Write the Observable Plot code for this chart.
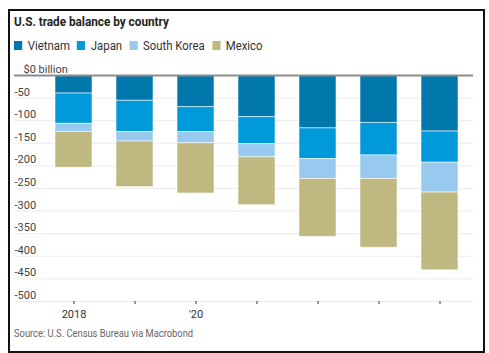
<!DOCTYPE html>
<html>
<head>
<meta charset="utf-8">
<script src="https://cdn.jsdelivr.net/npm/d3@7"></script>
<script src="https://cdn.jsdelivr.net/npm/@observablehq/plot@0.6"></script>
<style>
  html, body { margin: 0; padding: 0; background: #fff; }
  body { width: 489px; height: 353px; position: relative; overflow: hidden;
         font-family: Roboto, sans-serif; }
  #frame { position: absolute; left: 8px; top: 9px; width: 473px; height: 340px; border: 2px solid #111; }
  #title { position: absolute; left: 14px; top: 14px; font-size: 12.5px; font-weight: bold; color: #222; white-space: nowrap; transform: scaleX(0.94); transform-origin: left center; }
  #legend { position: absolute; left: 14px; top: 38px; font-size: 12.5px; color: #333; display: flex; align-items: center; white-space: nowrap; transform: scaleX(0.91); transform-origin: left center; }
  #legend .sw { display: inline-block; width: 9px; height: 9px; margin-right: 6px; }
  #legend .it { display: flex; align-items: center; margin-right: 8px; }
  #chart { position: absolute; left: 0; top: 58px; }
  #caption { position: absolute; left: 14px; top: 327px; font-size: 11px; color: #666; white-space: nowrap; transform: scaleX(0.85); transform-origin: left center; }
</style>
</head>
<body>
<div id="frame"></div>
<div id="title">U.S. trade balance by country</div>
<div id="legend"></div>
<div id="chart"></div>
<div id="caption">Source: U.S. Census Bureau via Macrobond</div>
<script>
const years = [2018, 2019, 2020, 2021, 2022, 2023, 2024];
const yearLabels = ["2018", "", "'20", "", "", "", ""];
const countries = ["Vietnam", "Japan", "South Korea", "Mexico"];
const colors = ["#0078ab", "#0099d9", "#97caee", "#bfb880"];
const vietnam = [-40, -56, -70, -92, -117, -105, -124];
const japan = [-67, -69, -55, -60, -68, -72, -69];
const southKorea = [-18, -21, -25, -29, -44, -52, -66];
const mexico = [-79, -101, -111, -106, -128, -152, -172];
const yTicks = [-50, -100, -150, -200, -250, -300, -350, -400, -450, -500];
const yTickLabels = ["-50", "-100", "-150", "-200", "-250", "-300", "-350", "-400", "-450", "-500"];
const zeroLabel = "$0 billion";

const series = [vietnam, japan, southKorea, mexico];
const data = [];
years.forEach((yr, i) => countries.forEach((c, j) => data.push({year: yr, country: c, value: series[j][i]})));

// legend
const lg = document.getElementById("legend");
countries.forEach((c, j) => {
  const it = document.createElement("span"); it.className = "it";
  const sw = document.createElement("span"); sw.className = "sw"; sw.style.background = colors[j];
  it.appendChild(sw); it.appendChild(document.createTextNode(c));
  lg.appendChild(it);
});

const W = 489, H = 265;
const plot = Plot.plot({
  width: W, height: H,
  marginTop: 17, marginBottom: 22, marginLeft: 14, marginRight: 16,
  style: {fontFamily: 'Roboto, sans-serif', fontSize: "11px", color: "#333", background: "transparent"},
  x: {type: "band", domain: years, range: [42.8, 469.8], paddingInner: 0.4, paddingOuter: 0.2, axis: null, label: null},
  y: {domain: [-500, 0], axis: null},
  color: {domain: countries, range: colors},
  marks: [
    Plot.ruleY(yTicks, {stroke: "#ebebeb", strokeWidth: 1}),
    Plot.barY(data, {x: "year", y: "value", fill: "country", order: countries, stroke: "#ffffff", strokeOpacity: 0.55, strokeWidth: 1}),
    Plot.ruleY([0], {stroke: "#8c8c8c", strokeWidth: 2}),
    Plot.text(yTicks, {y: d => d, frameAnchor: "left", text: (d, i) => yTickLabels[i], textAnchor: "start", dy: -6, fill: "#444"}),
    Plot.text([0], {y: d => d, frameAnchor: "left", text: () => zeroLabel, textAnchor: "start", dy: -6, dx: 9, fill: "#444"}),
    Plot.axisX({domain: years, tickSize: 3, tickPadding: 6, tickFormat: (d) => yearLabels[years.indexOf(d)], stroke: "#333", fill: "#333", fontSize: 11, label: null})
  ]
});
document.getElementById("chart").appendChild(plot);
</script>
</body>
</html>
